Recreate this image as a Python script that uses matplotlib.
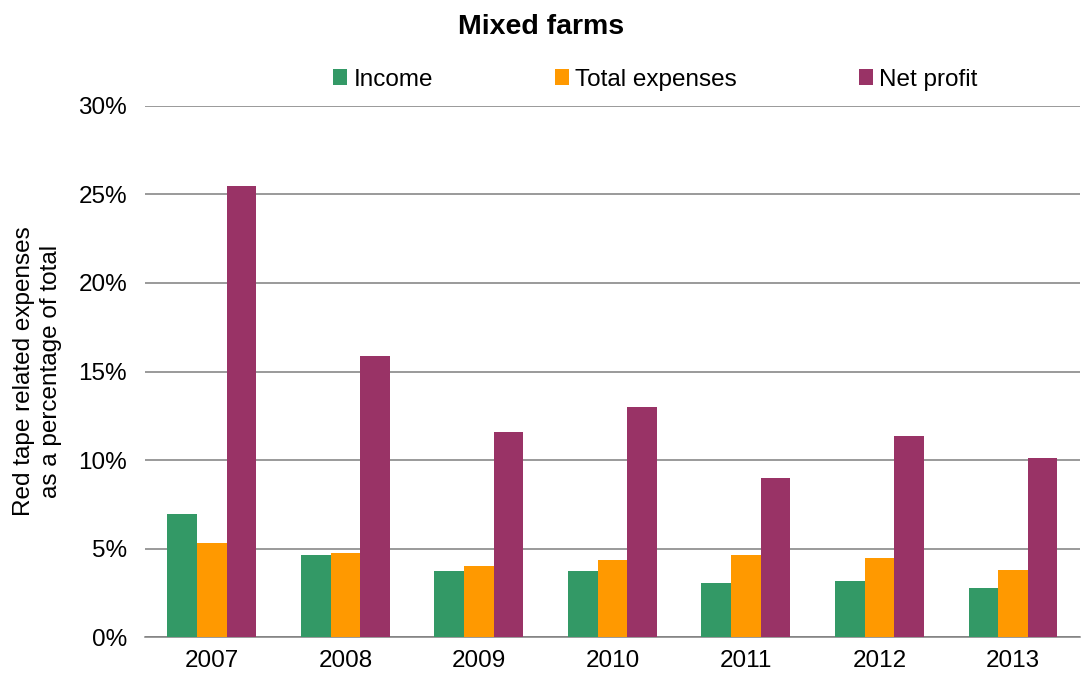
import numpy as np
import matplotlib.pyplot as plt
from matplotlib.ticker import PercentFormatter

plt.rcParams['font.family'] = ['Liberation Sans', 'DejaVu Sans']

years = ['2007', '2008', '2009', '2010', '2011', '2012', '2013']
income = [6.95, 4.63, 3.73, 3.73, 3.05, 3.16, 2.77]
total_expenses = [5.3, 4.75, 4.0, 4.35, 4.63, 4.46, 3.79]
net_profit = [25.5, 15.9, 11.6, 13.0, 9.0, 11.35, 10.1]

series = [('Income', income, '#339966'),
          ('Total expenses', total_expenses, '#ff9900'),
          ('Net profit', net_profit, '#993366')]

fig = plt.figure(figsize=(10.83, 6.86), dpi=100)
ax = fig.add_axes([0.134, 0.0714, 0.863, 0.7741])

x = np.arange(len(years))
w = 0.222
for i, (name, vals, col) in enumerate(series):
    ax.bar(x + (i - 1) * w, vals, width=w, color=col, label=name, zorder=3)

ax.set_ylim(0, 30)
ax.set_xlim(-0.5, len(years) - 0.5)
ax.set_yticks(range(0, 31, 5))
ax.yaxis.set_major_formatter(PercentFormatter(decimals=0))
ax.set_xticks(x)
ax.set_xticklabels(years)
ax.tick_params(length=0, labelsize=17.5)
ax.tick_params(axis='y', pad=13)
ax.tick_params(axis='x', pad=9)
ax.grid(axis='y', color='#7f7f7f', linewidth=1.1, zorder=0)
for s in ['top', 'right', 'left']:
    ax.spines[s].set_visible(False)
ax.spines['bottom'].set_color('#7f7f7f')
ax.spines['bottom'].set_linewidth(1.1)

ax.set_ylabel('Red tape related expenses\nas a percentage of total', fontsize=17.5,
              labelpad=12, linespacing=1.25)
fig.text(0.5, 0.96, 'Mixed farms', ha='center', va='center', fontsize=20.5, fontweight='bold')
fig.legend(loc='center', bbox_to_anchor=(0.605, 0.884), ncol=3, frameon=False,
           fontsize=17.5, handlelength=0.6, handleheight=0.6, handletextpad=0.25,
           columnspacing=5.0)

fig.savefig('out.png', dpi=100)
